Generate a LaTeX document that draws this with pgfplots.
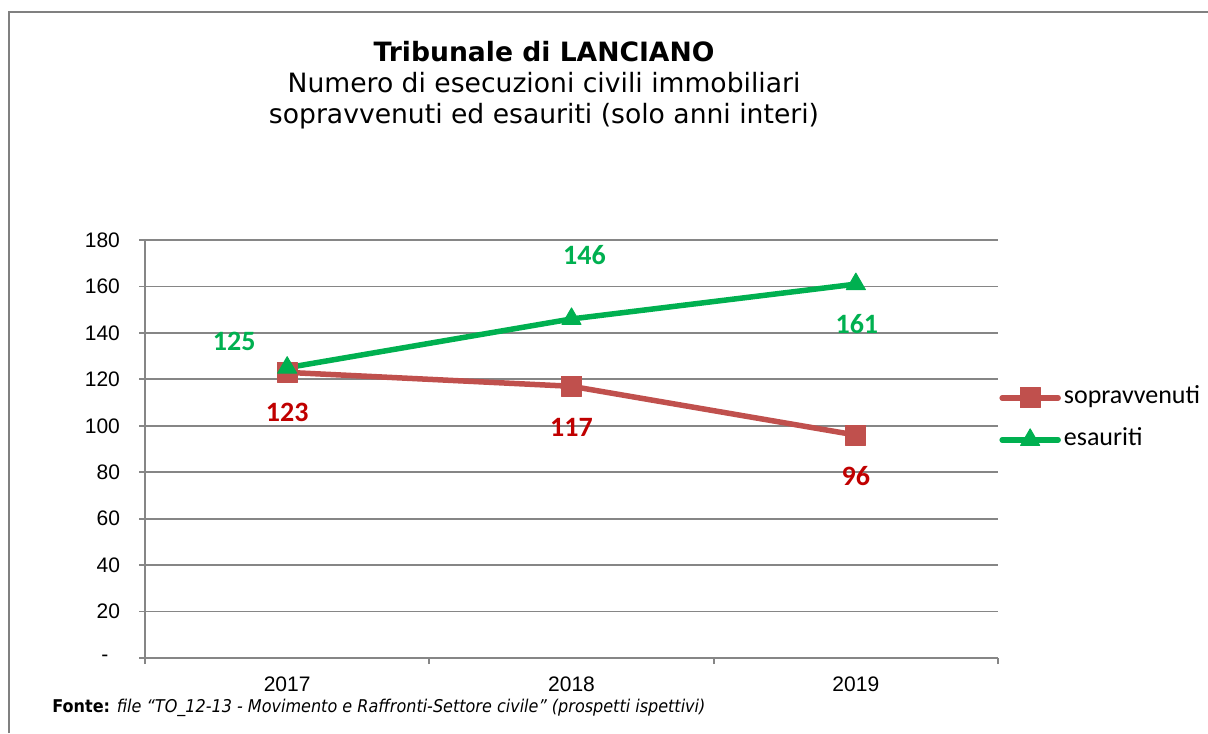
\documentclass[border=0pt]{standalone}
\usepackage{fontspec}
\setmainfont{Liberation Sans}
\newfontfamily\dejavu{DejaVu Sans}
\newfontfamily\carlito{Carlito}
\usepackage{graphicx}
\usepackage{pgfplots}
\pgfplotsset{compat=1.18}
\usepackage{pgfplotstable}
\definecolor{sopr}{HTML}{C0504D}
\definecolor{esau}{HTML}{00B050}
\definecolor{labred}{HTML}{C00000}
\definecolor{gridc}{HTML}{868686}

\pgfplotstableread{
x y dx dy
0 123 0 -20
1 117 0 -20.5
2 96 0 -20.5
}\tabsopr
\pgfplotstableread{
x y dx dy
0 125 -26.5 13
1 146 6.5 32
2 161 0.5 -20
}\tabesau

\begin{document}
\begin{tikzpicture}
\path[use as bounding box] (0,0) rectangle (604pt,366.5pt);
\draw[gray, line width=1pt] (4.5pt,0) -- (4.5pt,360.5pt) -- (604pt,360.5pt);

\node[anchor=base, inner sep=0pt, font=\dejavu\bfseries\fontsize{13.3}{16}\selectfont] at (272pt,335.5pt) {Tribunale di LANCIANO};
\node[anchor=base, inner sep=0pt, font=\dejavu\fontsize{13.3}{16}\selectfont] at (272pt,320pt) {Numero di esecuzioni civili immobiliari};
\node[anchor=base, inner sep=0pt, font=\dejavu\fontsize{13.3}{16}\selectfont] at (272pt,304.5pt) {sopravvenuti ed esauriti (solo anni interi)};

\begin{axis}[
  at={(72.5pt,37.5pt)}, anchor=south west,
  scale only axis, width=426.5pt, height=209pt,
  xmin=-0.5, xmax=2.5, ymin=0, ymax=180,
  axis x line=bottom, axis y line=left,
  axis line style={-, draw=gridc, line width=0.9pt},
  ytick={0,20,...,180},
  yticklabels={{-\hphantom{0}},20,40,60,80,100,120,140,160,180},
  xtick={0,1,2}, xticklabels={2017,2018,2019},
  minor xtick={-0.5,0.5,1.5,2.5},
  tick align=outside,
  tick style={draw=gridc, line width=0.9pt},
  major x tick style={draw=none},
  major tick length=3pt, minor tick length=3pt,
  ymajorgrids, grid style={draw=gridc, line width=0.9pt},
  ticklabel style={font=\fontsize{10.5}{12}\selectfont},
  yticklabel style={xshift=-6pt},
  xticklabel style={yshift=-3pt},
  clip=false,
  /pgf/number format/assume math mode=true,
  legend style={draw=none, fill=none, at={(1,0.572)}, anchor=west, xshift=0.5pt,
    inner sep=0pt, row sep=9pt, font=\carlito\fontsize{13}{15}\selectfont,
    nodes={inner xsep=1.5pt, inner ysep=0pt, text height=9pt, text depth=3pt}},
  legend cell align=left,
  legend image code/.code={\draw[#1,mark repeat=2,mark phase=2] plot coordinates {(0pt,0pt) (14pt,0pt) (28pt,0pt)};},
]
\addplot[sopr, line width=2.75pt, line join=round, line cap=round,
  mark=square*, mark size=5pt, mark options={solid, line width=0.5pt},
  visualization depends on={\thisrow{dx}\as\dx},
  visualization depends on={\thisrow{dy}\as\dy},
  nodes near coords,
  every node near coord/.append style={anchor=center, xshift=\dx pt, yshift=\dy pt,
    font=\carlito\bfseries\fontsize{14}{16}\selectfont, text=labred}]
  table[x=x,y=y]{\tabsopr};
\addlegendentry{sopravvenuti}
\addplot[esau, line width=2.75pt, line join=round, line cap=round,
  mark=triangle*, mark size=5.5pt, mark options={solid, line width=0.5pt},
  visualization depends on={\thisrow{dx}\as\dx},
  visualization depends on={\thisrow{dy}\as\dy},
  nodes near coords,
  every node near coord/.append style={anchor=center, xshift=\dx pt, yshift=\dy pt,
    font=\carlito\bfseries\fontsize{14}{16}\selectfont, text=esau}]
  table[x=x,y=y]{\tabesau};
\addlegendentry{esauriti}
\end{axis}

\node[anchor=base west, inner sep=0pt, font=\dejavu\fontsize{8.8}{10}\selectfont] at (26pt,10.5pt)
  {\resizebox{326.5pt}{\height}{\textbf{Fonte:} \textit{file “TO\_12-13 - Movimento e Raffronti-Settore civile” (prospetti ispettivi)}}};
\end{tikzpicture}
\end{document}
